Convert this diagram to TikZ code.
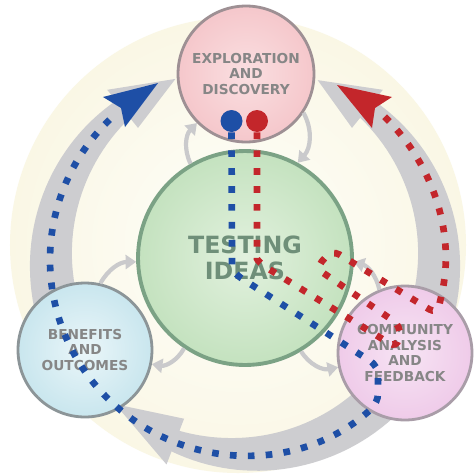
\documentclass[tikz,border=0pt]{standalone}
\usepackage{fontspec}
\setsansfont{DejaVu Sans}
\usetikzlibrary{arrows.meta, calc}

\definecolor{bgcream}{HTML}{FAF7E5}
\definecolor{bginner}{HTML}{FEFEFA}
\definecolor{ringgray}{HTML}{CDCDD0}
\definecolor{smallgray}{HTML}{CACACC}
\definecolor{labelgray}{HTML}{868686}
\definecolor{exploreedge}{HTML}{9E9094}
\definecolor{explorefill}{HTML}{F5C7CB}
\definecolor{exploreinner}{HTML}{FADFE1}
\definecolor{testedge}{HTML}{7BA285}
\definecolor{testfill}{HTML}{C4E2BF}
\definecolor{testinner}{HTML}{E2F1DE}
\definecolor{testtext}{HTML}{6F8F79}
\definecolor{benefitedge}{HTML}{8C9598}
\definecolor{benefitfill}{HTML}{C9E6EE}
\definecolor{benefitinner}{HTML}{EAF6F9}
\definecolor{communityedge}{HTML}{A99DA8}
\definecolor{communityfill}{HTML}{EFCBE9}
\definecolor{communityinner}{HTML}{F7E4F4}
\definecolor{trailblue}{HTML}{1E4FA6}
\definecolor{trailred}{HTML}{C3262B}

\tikzset{
    stage/.style={circle, minimum size=#1, inner sep=0pt, line width=1.6pt, align=center,
        text=labelgray, font=\sffamily\bfseries\fontsize{7.8}{8.8}\selectfont},
    trail/.style={line width=3.8pt, dash pattern=on 3.8pt off 6.4pt, rounded corners=5pt},
    loop arrow/.style={smallgray, line width=2.4pt, -{Triangle[length=6pt, width=8pt]}},
}

\begin{document}
\begin{tikzpicture}[x=0.02cm, y=0.02cm]
        \useasboundingbox (-245,-214) rectangle (230,260);
        \fill[white] (-245,-214) rectangle (230,260);
        \shade[inner color=bginner, outer color=bgcream] (-7,15) circle (228);

        \foreach \tail/\base/\tip in {215/129/111, -35/51/68, 330/249/228} {
            \fill[ringgray] plot[domain=\tail:\base, samples=40] (\x:{194+0.5*(46-24*((\x-(\tail))/(\base-(\tail)))^2)})
                -- (\base:219) -- (\tip:194) -- (\base:170)
                -- plot[domain=\base:\tail, samples=40] (\x:{194-0.5*(46-24*((\x-(\tail))/(\base-(\tail)))^2)}) -- cycle;
        }

        \node[stage=2.72cm, draw=exploreedge, shade, inner color=exploreinner, outer color=explorefill] (explore) at (1,186) {EXPLORATION\\AND\\DISCOVERY};
        \node[stage=4.28cm, draw=testedge, line width=2.2pt, shade, inner color=testinner, outer color=testfill,
            text=testtext, font=\sffamily\bfseries\fontsize{13.5}{15}\selectfont] (testing) at (0,2) {TESTING\\IDEAS};
        \node[stage=2.68cm, draw=benefitedge, shade, inner color=benefitinner, outer color=benefitfill] (benefits) at (-160,-90) {BENEFITS\\AND\\OUTCOMES};
        \node[stage=2.68cm, draw=communityedge, shade, inner color=communityinner, outer color=communityfill] (community) at (160,-93) {COMMUNITY\\ANALYSIS\\AND\\FEEDBACK};

        \draw[loop arrow] (testing.120) to[bend left=35] (explore.225);
        \draw[loop arrow] (explore.-34) to[bend left=35] (testing.61);
        \draw[loop arrow] (benefits.77) to[bend left=30] (testing.182);
        \draw[loop arrow] (testing.236) to[bend left=35] (benefits.-12);
        \draw[loop arrow] (testing.-59) to[bend right=35] (community.192);
        \draw[loop arrow] (community.112) to[bend right=30] (testing.-2);

        \node[circle, fill=trailblue, minimum size=0.44cm, inner sep=0pt] (bluedot) at (-13.5,139) {};
        \node[circle, fill=trailred, minimum size=0.44cm, inner sep=0pt] (reddot) at (12,139) {};

        \draw[trail, trailblue] (bluedot.south) -- (-13,0) to[out=-90, in=147] (3,-22.5) -- (133,-106)
            -- (-47:195) arc[start angle=-47, end angle=-229, radius=195];
        \fill[trailblue] (-87,177) -- (-142,163) -- (-124,152) -- (-120,133) -- cycle;

        \draw[trail, trailred] (reddot.south) -- (12,10) to[out=-90, in=148] (27,-11) -- (152,-88) -- (156,-66)
            -- (71,-8) -- (87,10) -- (192,-54) -- (-9:200) arc[start angle=-9, end angle=48, radius=200];
        \fill[trailred] (92,175) -- (147,163) -- (130,152) -- (127,132) -- cycle;
    \end{tikzpicture}
\end{document}
